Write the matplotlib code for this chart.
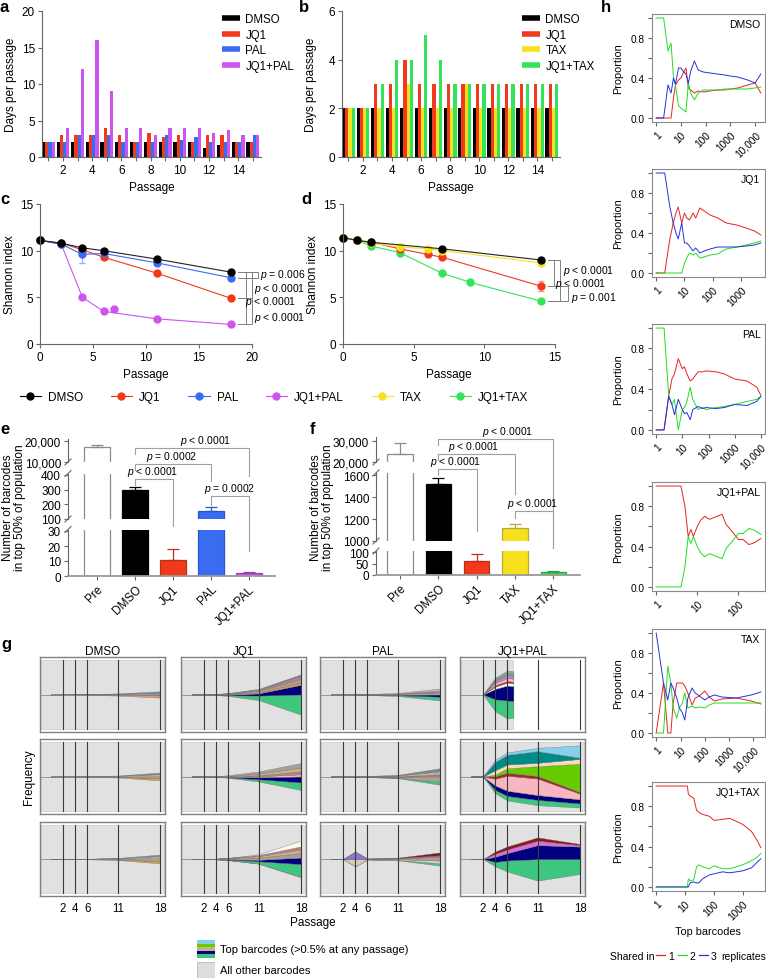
import numpy as np
import matplotlib
matplotlib.use("Agg")
import matplotlib.pyplot as plt
from matplotlib.lines import Line2D
from matplotlib.patches import Rectangle
from matplotlib.transforms import blended_transform_factory

plt.rcParams['font.family'] = ['Liberation Sans', 'DejaVu Sans']
plt.rcParams['mathtext.fontset'] = 'custom'
plt.rcParams['mathtext.rm'] = 'Liberation Sans'
plt.rcParams['mathtext.it'] = 'Liberation Sans:italic'
plt.rcParams['axes.linewidth'] = 0.8
plt.rcParams['axes.edgecolor'] = '#666666'
plt.rcParams['xtick.color'] = '#666666'
plt.rcParams['ytick.color'] = '#666666'
plt.rcParams['xtick.labelcolor'] = 'black'
plt.rcParams['ytick.labelcolor'] = 'black'
plt.rcParams['xtick.major.size'] = 3
plt.rcParams['ytick.major.size'] = 3

# ---------------- data ----------------
# a / b: days per passage
PASSAGES = list(range(1, 16))
a_dmso = [2, 2, 2, 2, 2, 2, 2, 2, 2, 2, 2, 1.3, 1.7, 2, 2]
a_jq1 = [2, 3, 3, 3, 4, 3, 2, 3.3, 2.7, 3, 2, 3, 3, 2, 2]
a_pal = [2, 2, 3, 3, 3, 2, 2, 2, 3, 2.3, 2.7, 2, 2, 2, 3]
a_jq1pal = [2, 4, 12, 16, 9, 4, 4, 3, 4, 4, 4, 3.3, 3.7, 3, 3]
b_dmso = [2, 2, 2, 2, 2, 2, 2, 2, 2, 2, 2, 2, 2, 2, 2]
b_jq1 = [2, 2, 3, 3, 4, 3, 3, 3, 3, 3, 3, 3, 3, 3, 3]
b_tax = [2, 2, 2, 2, 3, 2, 2, 2, 3, 2, 2, 2, 2, 2, 2]
b_jq1tax = [2, 2, 3, 4, 4, 5, 4, 3, 3, 3, 3, 3, 3, 3, 3]

# c: Shannon index
c_x = [0, 2, 4, 6, 11, 18]
c_dmso = [11.1, 10.8, 10.3, 10.0, 9.1, 7.7]
c_jq1 = [11.1, 10.8, 10.1, 9.3, 7.6, 4.9]
c_pal = [11.1, 10.7, 9.6, 9.7, 8.7, 7.1]
c_pal_err = [0, 0, 0.9, 0, 0, 0]
c_jp = [11.1, 10.7, 5.0, 3.5, 2.7, 2.1]
c_jp_extra_x = [7]
c_jp_extra = [3.8]

# d: Shannon index
d_dmso_x = [0, 1, 2, 7, 14]
d_dmso = [11.4, 11.1, 10.9, 10.2, 9.0]
d_x = [0, 1, 2, 4, 6, 7, 14]
d_jq1 = [11.4, 11.1, 10.9, 10.2, 9.6, 9.3, 6.2]
d_jq1_err = [0, 0, 0, 0, 0, 0, 0.5]
d_tax = [11.4, 11.1, 10.8, 10.4, 10.2, 10.0, 8.7]
d_jt_x = [0, 1, 2, 4, 7, 9, 14]
d_jt = [11.4, 11.1, 10.5, 9.8, 7.6, 6.6, 4.6]

# e / f: barcodes in top 50%
e_cats = ['Pre', 'DMSO', 'JQ1', 'PAL', 'JQ1+PAL']
e_vals = [17000, 300, 11, 155, 2]
e_err = [1300, 20, 7, 27, 0.5]
f_cats = ['Pre', 'DMSO', 'JQ1', 'TAX', 'JQ1+TAX']
f_vals = [24000, 1520, 60, 1120, 12]
f_err = [5000, 50, 33, 32, 4]

# g: barcode frequency streams (layers bottom -> top)
G_PASS = [0, 2, 4, 6, 11, 18]
G_PASS_JP1 = [2, 4, 6, 7]
g_dmso_1 = [('salmon', [0, 0, .002, .004, .010, .030]), ('slate', [0, 0, .001, .003, .008, .020]),
            ('tan', [0, 0, .001, .002, .006, .015]), ('steel', [0, 0, 0, .002, .005, .020])]
g_jq1_1 = [('green', [0, 0, .003, .010, .060, .270]), ('navy', [0, 0, .003, .008, .030, .130]),
           ('orange', [0, 0, .002, .005, .015, .030]), ('gray', [0, 0, .003, .008, .020, .050]),
           ('rosy', [0, 0, .002, .005, .015, .040]), ('slate', [0, 0, .002, .004, .010, .020])]
g_pal_1 = [('green', [0, 0, .001, .003, .010, .050]), ('navy', [0, 0, .001, .003, .008, .030]),
           ('gray', [0, 0, .002, .004, .010, .030]), ('violet', [0, 0, 0, .002, .005, .020]),
           ('tan', [0, 0, .001, .003, .008, .030])]
g_jp_1 = [('green', [0, .16, .24, .22]), ('navy', [0, .14, .20, .20]), ('white', [0, .03, .04, .04]),
          ('brown', [0, .02, .02, .02]), ('pink', [0, .03, .04, .04]), ('orchid', [0, .03, .04, .04]),
          ('green', [0, .02, .03, .03]), ('gray', [0, .02, .03, .03])]
g_dmso_2 = [('orange', [0, 0, .001, .003, .008, .030]), ('gray', [0, 0, 0, .002, .005, .025]),
            ('tan', [0, 0, .001, .003, .008, .030]), ('slate', [0, 0, 0, .002, .005, .020])]
g_jq1_2 = [('green', [0, 0, .001, .005, .030, .100]), ('navy', [0, 0, .002, .005, .030, .080]),
           ('pink', [0, 0, 0, .003, .010, .030]), ('rosy', [0, 0, .002, .005, .015, .040]),
           ('tan', [0, 0, .002, .006, .020, .050]), ('gray', [0, 0, .003, .010, .030, .060])]
g_pal_2 = [('green', [0, 0, 0, .002, .005, .040]), ('gray', [0, 0, .001, .003, .010, .060]),
           ('orange', [0, 0, 0, .002, .005, .020]), ('violet', [0, 0, 0, .002, .005, .020]),
           ('tan', [0, 0, .001, .003, .010, .040]), ('slate', [0, 0, .002, .004, .010, .040])]
g_jp_2 = [('green', [0, 0, .045, .06, .07, .055]), ('navy', [0, 0, .06, .07, .065, .055]),
          ('pink', [0, 0, .09, .20, .22, .075]), ('brown', [0, 0, .035, .04, .035, .02]),
          ('lime', [0, 0, .02, .06, .13, .38]), ('wheat', [0, 0, .06, .05, .045, .065]),
          ('teal', [0, 0, .11, .13, .155, .015]), ('lightblue', [0, 0, .03, .03, .045, .165])]
g_dmso_3 = [('orange', [0, 0, 0, .002, .008, .030]), ('gray', [0, 0, .001, .003, .010, .040]),
            ('tan', [0, 0, 0, .002, .006, .030]), ('steel', [0, 0, 0, .001, .004, .020])]
g_jq1_3 = [('lilac', [0, 0, 0, .001, .003, .010]), ('green', [0, 0, .002, .006, .030, .170]),
           ('navy', [0, 0, .002, .005, .020, .090]), ('gray', [0, 0, .003, .008, .030, .060]),
           ('tan', [0, 0, .002, .006, .020, .050]), ('rosy', [0, 0, .001, .004, .015, .040]),
           ('white', [0, 0, 0, .001, .010, .080])]
g_pal_3 = [('green', [0, 0, 0, .002, .005, .030]), ('khaki', [0, 0, .10, .005, .010, .040]),
           ('gray', [0, 0, 0, .003, .010, .050]), ('violet', [0, 0, .10, .003, .005, .020]),
           ('darkred', [0, 0, 0, .002, .005, .040])]
g_jp_3 = [('green', [0, 0, .06, .15, .29, .20]), ('navy', [0, 0, .07, .10, .19, .17]),
          ('orchid', [0, 0, .04, .05, .06, .02]), ('darkred', [0, 0, .03, .04, .045, .015])]

# h: proportion of top barcodes shared in 1 / 2 / 3 replicates
h_dmso_x = [1, 2, 3, 4, 5, 6, 8, 10, 13, 16, 20, 25, 35, 50, 80, 150, 300, 600, 1000, 2000, 5000, 10000, 17000]
h_dmso_1 = [0, 0, 0, 0, .2, .33, .38, .4, .46, .5, .3, .28, .25, .27, .26, .27, .28, .28, .29, .3, .33, .35, .25]
h_dmso_2 = [1, 1, .67, .75, .4, .33, .12, .1, .08, .06, .35, .25, .18, .25, .28, .28, .28, .29, .29, .29, .29, .3, .31]
h_dmso_3 = [0, 0, .33, .25, .4, .34, .5, .5, .46, .44, .35, .47, .57, .48, .46, .45, .44, .43, .42, .41, .38, .35, .44]
h_jq1_x = [1, 2, 3, 4, 5, 6, 8, 10, 12, 15, 20, 25, 35, 50, 80, 150, 300, 700, 1500, 3000, 5000]
h_jq1_1 = [0, 0, .33, .5, .6, .66, .5, .6, .55, .53, .6, .55, .65, .62, .58, .55, .5, .48, .45, .42, .38]
h_jq1_2 = [0, 0, 0, 0, 0, 0, 0, .1, .15, .2, .18, .2, .15, .16, .18, .19, .24, .26, .28, .3, .32]
h_jq1_3 = [1, 1, .67, .5, .4, .34, .5, .3, .3, .27, .22, .25, .2, .22, .24, .26, .26, .26, .27, .28, .3]
h_pal_x = [1, 2, 3, 4, 5, 7, 10, 12, 15, 20, 25, 40, 60, 80, 200, 400, 1000, 3000, 7000, 10000]
h_pal_1 = [0, 0, .33, .5, .55, .7, .6, .62, .55, .48, .5, .57, .57, .58, .57, .55, .5, .48, .42, .34]
h_pal_2 = [1, 1, .34, .25, .3, 0, .2, .22, .28, .42, .3, .2, .22, .2, .22, .23, .25, .28, .3, .33]
h_pal_3 = [0, 0, .33, .25, .15, .3, .2, .16, .17, .1, .2, .23, .21, .22, .21, .22, .25, .24, .28, .33]
h_jp_x = [1, 2, 3, 4, 5, 6, 7, 8, 10, 12, 15, 20, 30, 40, 50, 70, 100, 130, 180, 250, 350]
h_jp_1 = [1, 1, 1, 1, .8, .5, .57, .5, .6, .66, .7, .67, .7, .72, .62, .55, .47, .47, .42, .44, .48]
h_jp_2 = [0, 0, 0, 0, .2, .5, .43, .5, .4, .34, .3, .33, .3, .28, .38, .45, .53, .53, .58, .56, .52]
h_tax_x = [1, 2, 3, 4, 5, 7, 9, 12, 15, 20, 30, 40, 60, 100, 150, 250, 500, 2000, 8000, 20000]
h_tax_1 = [0, .5, 0, 0, .3, .5, .5, .5, .47, .4, .28, .35, .37, .42, .36, .32, .34, .35, .32, .29]
h_tax_2 = [0, 0, .67, .5, .25, .15, .25, .3, .4, .25, .27, .25, .26, .25, .28, .3, .3, .3, .3, .3]
h_tax_3 = [1, .5, .33, .5, .45, .35, .25, .2, .13, .35, .45, .4, .37, .33, .36, .38, .36, .35, .38, .41]
h_jt_x = [1, 5, 10, 12, 13, 15, 20, 25, 30, 40, 70, 100, 200, 350, 600, 1000, 2000, 3000, 4200]
h_jt_1 = [1, 1, 1, 1, .92, .9, .88, .76, .74, .72, .7, .66, .67, .68, .65, .62, .55, .47, .39]
h_jt_2 = [0, 0, 0, 0, .08, .06, .07, .2, .22, .2, .18, .21, .18, .18, .2, .22, .26, .29, .33]
h_jt_3 = [0, 0, 0, 0, 0, .04, .05, .04, .04, .08, .12, .13, .15, .14, .15, .16, .19, .24, .28]

# ---------------- styles ----------------
COL = {'DMSO': '#000000', 'JQ1': '#f2391c', 'PAL': '#3a6cf2', 'JQ1+PAL': '#cc55ee',
       'TAX': '#f7e11c', 'JQ1+TAX': '#33e35a'}
FACE = dict(COL, Pre='white')
EDGE = {'Pre': '#8c8c8c', 'DMSO': '#000000', 'JQ1': '#b8321a', 'PAL': '#2a55c8',
        'JQ1+PAL': '#9a3cc0', 'TAX': '#b8a838', 'JQ1+TAX': '#22a845'}
GCOL = {'navy': '#000080', 'green': '#3fc67e', 'lime': '#66cc00', 'pink': '#f7b6c2',
        'teal': '#008b8b', 'lightblue': '#87cfea', 'wheat': '#f5deb3', 'brown': '#a52a2a',
        'darkred': '#8b1a1a', 'gray': '#a89f98', 'tan': '#c8b48c', 'violet': '#9370db',
        'orchid': '#da70d6', 'slate': '#778899', 'salmon': '#e9967a', 'orange': '#e0a040',
        'khaki': '#d8cfb0', 'white': '#fff8f0', 'lilac': '#c8a2e8', 'steel': '#6a8cb0',
        'rosy': '#c08080'}
HCOL = ['#e8221e', '#22dd22', '#2233dd']

W, H = 766, 979
fig = plt.figure(figsize=(W / 100, H / 100), dpi=100)


def axes_px(l, t, r, b, **kw):
    return fig.add_axes([l / W, 1 - b / H, (r - l) / W, (b - t) / H], **kw)


def ftext(x, y, s, **kw):
    kw.setdefault('ha', 'center')
    kw.setdefault('va', 'center')
    fig.text(x / W, 1 - y / H, s, **kw)


def only_lb(ax):
    ax.spines['top'].set_visible(False)
    ax.spines['right'].set_visible(False)


def tick_fmt(t):
    return f'{t:,}' if t >= 10000 else str(t)


# overlay in pixel coordinates for brackets and axis breaks
ov = fig.add_axes([0, 0, 1, 1], zorder=20)
ov.set_xlim(0, W)
ov.set_ylim(H, 0)
ov.axis('off')

# ---------------- a, b ----------------
for left, right, series, ymax, yt, lab in [
        (42, 261, [('DMSO', a_dmso), ('JQ1', a_jq1), ('PAL', a_pal), ('JQ1+PAL', a_jq1pal)], 20, [0, 5, 10, 15, 20], 'a'),
        (342, 560, [('DMSO', b_dmso), ('JQ1', b_jq1), ('TAX', b_tax), ('JQ1+TAX', b_jq1tax)], 6, [0, 2, 4, 6], 'b')]:
    ax = axes_px(left, 12, right, 158)
    x = np.array(PASSAGES)
    for k, (name, vals) in enumerate(series):
        ax.bar(x + (k - 1.5) * 0.22, vals, 0.22, color=COL[name], lw=0)
    ax.set_xlim(0.56, 15.56)
    ax.set_ylim(0, ymax)
    ax.set_yticks(yt)
    ax.set_xticks(PASSAGES)
    ax.set_xticklabels([str(p) if p % 2 == 0 else '' for p in PASSAGES])
    ax.tick_params(labelsize=8.5, pad=2)
    only_lb(ax)
    hd = [Line2D([0], [0], color=COL[n], lw=4, solid_capstyle='butt') for n, _ in series]
    ax.legend(hd, [n for n, _ in series], loc='upper left', frameon=False,
              bbox_to_anchor=((left + 170) / W, 1 - 4 / H), bbox_transform=fig.transFigure,
              fontsize=8.3, handlelength=1.5, handletextpad=0.5, labelspacing=0.3)
    ftext((left + right) / 2, 188, 'Passage', fontsize=8.5)
    ftext(left - 31, 85, 'Days per passage', rotation=90, fontsize=8.5)
    ftext(left - 38, 8, lab, fontsize=12, fontweight='bold')

# ---------------- c ----------------
ax = axes_px(40, 205, 252, 345)
ax.errorbar(c_x, c_pal, yerr=c_pal_err, fmt='none', ecolor='#8fb0f7', elinewidth=0.8, capsize=2)
ax.plot(c_x, c_jp, color=COL['JQ1+PAL'], lw=0.8, marker='o', ms=5, clip_on=False)
ax.plot(c_jp_extra_x, c_jp_extra, ls='none', color=COL['JQ1+PAL'], marker='o', ms=5)
ax.plot(c_x, c_jq1, color=COL['JQ1'], lw=0.8, marker='o', ms=5, clip_on=False)
ax.plot(c_x, c_pal, color=COL['PAL'], lw=0.8, marker='o', ms=5, clip_on=False)
ax.plot(c_x, c_dmso, color='#222222', lw=0.8, marker='o', ms=5, mfc='black', mec='black', clip_on=False)
ax.set_xlim(0, 20)
ax.set_ylim(0, 15)
ax.set_xticks([0, 5, 10, 15, 20])
ax.set_yticks([0, 5, 10, 15])
ax.tick_params(labelsize=8.5, pad=2)
only_lb(ax)


def side_bracket(ax, x0, x1, y0, y1):
    ax.plot([x0, x1, x1, x0], [y0, y0, y1, y1], color='#808080', lw=0.7, clip_on=False)


side_bracket(ax, 18.7, 20.6, 7.7, 7.1)
side_bracket(ax, 18.7, 20.0, 7.7, 4.9)
side_bracket(ax, 18.7, 19.4, 7.7, 2.1)
side_bracket(ax, 18.7, 20.0, 4.9, 2.1)
pk = dict(fontsize=7.5, va='center', ha='left', clip_on=False)
ax.text(20.8, 7.5, '$p$ = 0.006', **pk)
ax.text(20.2, 6.05, '$p$ < 0.0001', **pk)
ax.text(19.3, 4.65, '$p$ < 0.0001', **pk)
ax.text(20.2, 2.9, '$p$ < 0.0001', **pk)
ftext(146, 375, 'Passage', fontsize=8.5)
ftext(10, 275, 'Shannon index', rotation=90, fontsize=8.5)
ftext(5, 199, 'c', fontsize=12, fontweight='bold')

# ---------------- d ----------------
ax = axes_px(343, 205, 555, 345)
ax.errorbar(d_x, d_jq1, yerr=d_jq1_err, fmt='none', ecolor='#f79a8a', elinewidth=0.8, capsize=2)
ax.plot(d_jt_x, d_jt, color=COL['JQ1+TAX'], lw=0.8, marker='o', ms=5, clip_on=False)
ax.plot(d_x, d_jq1, color=COL['JQ1'], lw=0.8, marker='o', ms=5, clip_on=False)
ax.plot(d_x, d_tax, color=COL['TAX'], lw=0.8, marker='o', ms=5, clip_on=False)
ax.plot(d_dmso_x, d_dmso, color='#222222', lw=0.8, marker='o', ms=5, mfc='black', mec='black', clip_on=False)
ax.set_xlim(0, 15)
ax.set_ylim(0, 15)
ax.set_xticks([0, 5, 10, 15])
ax.set_yticks([0, 5, 10, 15])
ax.tick_params(labelsize=8.5, pad=2)
only_lb(ax)
side_bracket(ax, 14.5, 15.35, 9.0, 4.6)
side_bracket(ax, 14.5, 14.9, 9.0, 6.2)
side_bracket(ax, 14.5, 15.9, 6.2, 4.6)
ax.text(15.55, 7.9, '$p$ < 0.0001', **pk)
ax.text(15.0, 6.5, '$p$ < 0.0001', **pk)
ax.text(16.1, 5.0, '$p$ = 0.001', **pk)
ftext(449, 375, 'Passage', fontsize=8.5)
ftext(313, 275, 'Shannon index', rotation=90, fontsize=8.5)
ftext(306, 199, 'd', fontsize=12, fontweight='bold')

# legend row for c/d
LEG = ['DMSO', 'JQ1', 'PAL', 'JQ1+PAL', 'TAX', 'JQ1+TAX']
hd = [Line2D([0], [0], color=COL[n], lw=0.8, marker='o', ms=5) for n in LEG]
fig.legend(hd, LEG, loc='center', bbox_to_anchor=(274 / W, 1 - 398 / H), ncol=6, frameon=False,
           fontsize=8.5, handlelength=1.8, handletextpad=0.6, columnspacing=2.35)


# ---------------- e, f ----------------
def bar_panel(left, right, first_px, step_px, segs, cats, vals, errs, lab):
    xl = -(first_px - left) / step_px
    xr = (right - first_px) / step_px
    idx = np.arange(len(cats))
    faces = [FACE[c] for c in cats]
    edges = [EDGE[c] for c in cats]
    axs = []
    for top, bot, lo, hi, ticks in segs:
        ax = axes_px(left, top, right, bot)
        ax.bar(idx, vals, 0.66, color=faces, edgecolor=edges, linewidth=0.9)
        for i in idx:
            ax.errorbar([i], [vals[i]], yerr=[[0], [errs[i]]], fmt='none', ecolor=edges[i],
                        elinewidth=0.9, capsize=4, capthick=0.9)
        ax.set_xlim(xl, xr)
        ax.set_ylim(lo, hi)
        ax.set_yticks(ticks)
        ax.set_yticklabels([tick_fmt(t) for t in ticks])
        ax.tick_params(labelsize=8.5, pad=2)
        for s in ['top', 'right', 'bottom']:
            ax.spines[s].set_visible(False)
        ax.set_xticks([])
        ax.patch.set_alpha(0)
        axs.append(ax)
    axb = axs[-1]
    axb.spines['bottom'].set_visible(True)
    axb.spines['bottom'].set_color('#9a9a9a')
    axb.spines['bottom'].set_linewidth(1.3)
    axb.set_xticks(idx)
    axb.set_xticklabels(cats, rotation=45, ha='right', va='top', rotation_mode='anchor', fontsize=8.5)
    axb.tick_params(axis='x', length=3)
    # break marks on the y axis
    for k, (top, bot, lo, hi, ticks) in enumerate(segs):
        ends = []
        if k > 0:
            ends.append(top)
        if k < len(segs) - 1:
            ends.append(bot)
        for y in ends:
            ov.plot([left - 3, left + 3], [y + 3, y - 3], color='#666666', lw=0.8)
    ftext(left - 54, 508, 'Number of barcodes\nin top 50% of population', rotation=90,
          fontsize=8.5, linespacing=1.0)
    ftext(left - 63, 430, lab, fontsize=12, fontweight='bold')
    return axb


def bracket(ax, i0, i1, y, leg0, leg1, label, tx):
    tr = blended_transform_factory(ax.transData, ov.transData)
    ov.plot([i0, i0, i1, i1], [leg0, y, y, leg1], color='#a0a0a0', lw=0.8, transform=tr)
    ov.text(tx, y - 1.2, label, transform=tr, ha='center', va='bottom', fontsize=7.5)


axe = bar_panel(68, 275, 97, 38, [(440, 463, 10000, 21000, [10000, 20000]),
                                  (474.5, 520, 100, 410, [100, 200, 300, 400]),
                                  (530.5, 577, 0, 31, [0, 10, 20, 30])],
                e_cats, e_vals, e_err, 'e')
bracket(axe, 1, 4, 449, 455, 477, '$p$ < 0.0001', 2.87)
bracket(axe, 1, 3, 465, 471, 482, '$p$ = 0.0002', 1.97)
bracket(axe, 1, 2, 480, 486, 527, '$p$ < 0.0001', 1.45)
bracket(axe, 3, 4, 497, 506, 552, '$p$ = 0.0002', 3.5)

axf = bar_panel(376, 580, 400, 38.3, [(438, 463, 20000, 32000, [20000, 30000]),
                                      (474, 542, 1000, 1620, [1000, 1200, 1400, 1600]),
                                      (552, 576, 0, 105, [0, 50, 100])],
                f_cats, f_vals, f_err, 'f')
bracket(axf, 1, 4, 440, 446, 549, '$p$ < 0.0001', 2.82)
bracket(axf, 1, 3, 455, 461, 495, '$p$ < 0.0001', 1.93)
bracket(axf, 1, 2, 470, 476, 532, '$p$ < 0.0001', 1.44)
bracket(axf, 3, 4, 512, 519, 549, '$p$ < 0.0001', 3.45)

# ---------------- g ----------------
G_NAMES = ['DMSO', 'JQ1', 'PAL', 'JQ1+PAL']
g_rows = [[(G_PASS, g_dmso_1), (G_PASS, g_jq1_1), (G_PASS, g_pal_1), (G_PASS_JP1, g_jp_1)],
          [(G_PASS, g_dmso_2), (G_PASS, g_jq1_2), (G_PASS, g_pal_2), (G_PASS, g_jp_2)],
          [(G_PASS, g_dmso_3), (G_PASS, g_jq1_3), (G_PASS, g_pal_3), (G_PASS, g_jp_3)]]
col_px = [(40, 165), (181, 306), (320, 445), (460, 585)]
row_px = [(658, 733), (740, 815), (823, 897)]
for r, row in enumerate(g_rows):
    for c, (xs, layers) in enumerate(row):
        ax = axes_px(col_px[c][0], row_px[r][0], col_px[c][1], row_px[r][1])
        ax.set_xlim(-1.8, 18.8)
        ax.set_ylim(-0.5, 0.5)
        ax.set_facecolor('white')
        for s in ax.spines.values():
            s.set_color('#808080')
            s.set_linewidth(1.0)
        ax.axvspan(-1.6, xs[-1] if xs[-1] < 18 else 18.6, ymin=0.035, ymax=0.965,
                   facecolor='#e1e1e1', edgecolor='#d0d0d0', lw=0.6, zorder=0)
        ax.plot([-1.6, xs[0]], [0, 0], color='#8a8a8a', lw=0.6, zorder=1)
        ax.stackplot(xs, [v for _, v in layers], colors=[GCOL[k] for k, _ in layers],
                     baseline='sym', edgecolor='#707070', linewidth=0.25, zorder=2)
        for p in [2, 4, 6, 11, 18]:
            ax.axvline(p, ymin=0.035, ymax=0.965, color='#3a3a3a', lw=0.8, zorder=3)
        ax.set_yticks([])
        if r == 2:
            ax.set_xticks([2, 4, 6, 11, 18])
            ax.tick_params(axis='x', length=0, labelsize=8.3, pad=4)
        else:
            ax.set_xticks([])
        if r == 0:
            ax.set_title(G_NAMES[c], fontsize=8.5, pad=2.5)
ftext(29, 777, 'Frequency', rotation=90, fontsize=8.5)
ftext(313, 923, 'Passage', fontsize=8.5)
ftext(6, 645, 'g', fontsize=12, fontweight='bold')

# g legend swatches
sw = axes_px(197, 941, 215, 959)
for k, cname in enumerate(['green', 'navy', 'tan', 'lime', 'lightblue']):
    sw.add_patch(Rectangle((0, k / 5), 1, 1 / 5, facecolor=GCOL[cname], edgecolor='none'))
sw.set_xlim(0, 1)
sw.set_ylim(0, 1)
sw.axis('off')
sw2 = axes_px(197, 963, 215, 979)
sw2.add_patch(Rectangle((0, 0), 1, 1, facecolor='#dedede', edgecolor='#c0c0c0', lw=0.8))
sw2.set_xlim(0, 1)
sw2.set_ylim(0, 1)
sw2.axis('off')
ftext(220, 950, 'Top barcodes (>0.5% at any passage)', ha='left', fontsize=8)
ftext(220, 971, 'All other barcodes', ha='left', fontsize=8)

# ---------------- h ----------------
h_panels = [('DMSO', h_dmso_x, [h_dmso_1, h_dmso_2, h_dmso_3], [1, 10, 100, 1000, 10000]),
            ('JQ1', h_jq1_x, [h_jq1_1, h_jq1_2, h_jq1_3], [1, 10, 100, 1000]),
            ('PAL', h_pal_x, [h_pal_1, h_pal_2, h_pal_3], [1, 10, 100, 1000, 10000]),
            ('JQ1+PAL', h_jp_x, [h_jp_1, h_jp_2, None], [1, 10, 100]),
            ('TAX', h_tax_x, [h_tax_1, h_tax_2, h_tax_3], [1, 10, 100, 1000, 10000]),
            ('JQ1+TAX', h_jt_x, [h_jt_1, h_jt_2, h_jt_3], [1, 10, 100, 1000])]
h_rows = [(15, 123), (170, 278), (325, 435), (483, 592), (630, 738), (783, 892)]
for (name, xs, ys, xt), (t, b) in zip(h_panels, h_rows):
    ax = axes_px(652, t, 765, b)
    for yv, col in zip(ys, HCOL):
        if yv is not None:
            ax.plot(xs, yv, color=col, lw=0.7)
    ax.set_xscale('log')
    pad = 10 ** (0.04 * np.log10(xs[-1]))
    ax.set_xlim(1 / pad, xs[-1] * pad)
    ax.set_ylim(-0.04, 1.04)
    ax.set_yticks([0, .2, .4, .6, .8, 1.0])
    ax.set_yticklabels(['0.0', '', '0.4', '', '0.8', ''])
    ax.set_xticks(xt)
    ax.set_xticklabels([tick_fmt(v) for v in xt], rotation=45, ha='right', va='top',
                       rotation_mode='anchor')
    ax.xaxis.set_minor_locator(matplotlib.ticker.NullLocator())
    ax.tick_params(labelsize=7.3, pad=2)
    for s in ax.spines.values():
        s.set_color('#8a8a8a')
    ax.text(0.96, 0.95, name, transform=ax.transAxes, ha='right', va='top', fontsize=7.5)
    ftext(618, (t + b) / 2, 'Proportion', rotation=90, fontsize=7.8)
ftext(708, 932, 'Top barcodes', fontsize=7.8)
ftext(606, 8, 'h', fontsize=12, fontweight='bold')
ftext(610, 957, 'Shared in', ha='left', fontsize=7.5)
hh = [Line2D([0], [0], color=c, lw=0.9) for c in HCOL]
fig.legend(hh, ['1', '2', '3'], loc='center left', bbox_to_anchor=(656 / W, 1 - 957 / H), ncol=3,
           frameon=False, fontsize=7.5, handlelength=0.9, handletextpad=0.25, columnspacing=0.35,
           borderpad=0, borderaxespad=0)
ftext(766, 957, 'replicates', ha='right', fontsize=7.5)

fig.savefig('out.png', dpi=100)
